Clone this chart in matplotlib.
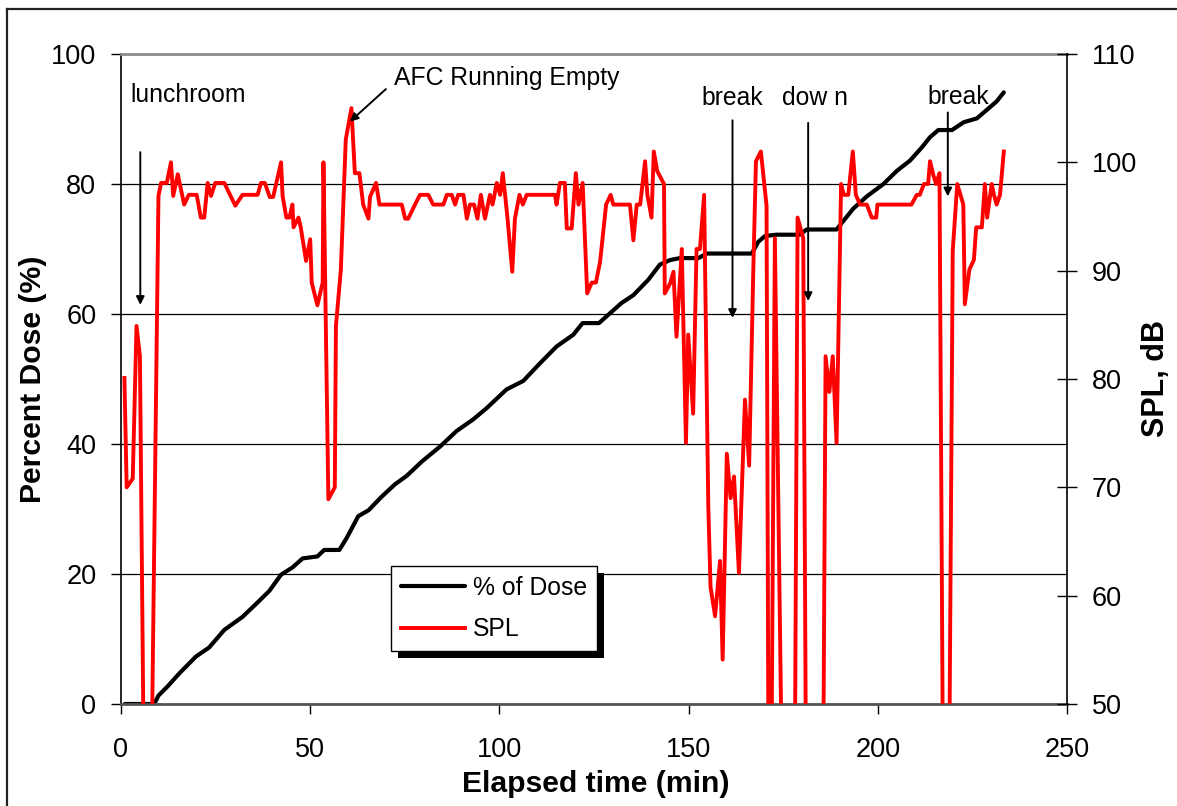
import matplotlib
matplotlib.use("Agg")
import matplotlib.pyplot as plt
from matplotlib.lines import Line2D
from matplotlib.patches import Rectangle
from matplotlib.transforms import IdentityTransform

plt.rcParams['font.family'] = ['Liberation Sans', 'DejaVu Sans']

# % of dose (left axis)
dose_t = [1.0, 8.8, 9.9, 12.3, 15.4, 19.8, 23.3, 27.3, 32.1, 35.7, 39.2, 42.3, 45.3,
          48.0, 51.9, 53.7, 57.7, 59.6, 62.7, 65.4, 68.9, 72.4, 75.5, 79.5, 84.3,
          88.7, 93.1, 96.6, 101.9, 106.3, 110.7, 115.1, 119.5, 122.0, 126.3, 129.2,
          132.3, 135.4, 139.4, 142.4, 145.1, 147.7, 152.6, 154.8, 166.7, 168.4,
          170.2, 173.2, 179.4, 181.2, 189.1, 193.5, 197.1, 201.5, 205.0, 208.5,
          211.6, 213.8, 216.0, 219.6, 222.7, 226.2, 228.8, 231.4, 233.3]
dose_pct = [0, 0, 1.3, 2.7, 4.7, 7.3, 8.7, 11.4, 13.4, 15.4, 17.4, 19.9, 21.0,
            22.4, 22.7, 23.7, 23.7, 25.5, 28.9, 29.8, 31.9, 33.8, 35.1, 37.3, 39.6,
            42.0, 43.8, 45.5, 48.4, 49.7, 52.4, 55.0, 56.8, 58.6, 58.6, 60.1,
            61.7, 62.9, 65.3, 67.6, 68.3, 68.6, 68.6, 69.3, 69.3, 71.1,
            72.0, 72.2, 72.2, 73.0, 73.0, 76.2, 78.1, 80.0, 82.0, 83.6,
            85.6, 87.2, 88.3, 88.3, 89.5, 90.1, 91.4, 92.7, 94.1]

# SPL in dB (right axis); 45 = below the axis floor
spl_t = [0.9, 1.5, 3.1, 4.1, 5.0, 6.0, 8.1, 9.9, 10.6, 12.1, 13.2, 13.8, 15.0, 16.7,
         17.9, 20.0, 21.1, 22.0, 22.9, 23.8, 24.9, 27.3, 30.2, 32.1, 36.1, 37.0,
         38.0, 39.3, 40.2, 42.3, 42.7, 43.7, 44.5, 45.3, 45.6, 46.9, 47.5, 48.9,
         50.0, 50.4, 51.9, 53.3, 53.5, 54.8, 56.5, 56.8, 58.1, 59.4, 60.9, 61.8,
         63.0, 64.0, 65.4, 65.8, 67.4, 68.3, 74.2, 75.1, 75.9, 77.7, 79.0, 81.2,
         82.5, 85.2, 86.1, 87.4, 88.3, 89.1, 90.5, 91.4, 92.2, 93.3, 94.2, 95.1,
         96.2, 97.5, 98.2, 99.3, 100.2, 100.9, 102.1, 103.4, 104.1, 105.3, 106.2,
         107.2, 114.7, 115.1, 116.0, 117.3, 117.8, 119.1, 120.2, 120.9, 122.0,
         123.2, 124.4, 125.5, 126.6, 128.2, 129.4, 130.1, 134.5, 135.4, 136.3,
         137.2, 138.5, 139.1, 140.2, 140.8, 141.7, 143.5, 143.7, 145.1, 146.0,
         146.8, 148.2, 149.3, 149.9, 151.2, 152.1, 153.0, 154.1, 155.2, 155.8,
         157.0, 158.3, 159.0, 160.1, 161.1, 162.0, 163.3, 164.9, 166.0, 167.1,
         167.8, 169.1, 170.6, 171.1, 171.9, 172.8, 174.6, 178.1, 178.8, 180.3,
         181.0, 185.6, 186.2, 187.2, 188.1, 189.1, 190.3, 191.0, 192.2, 193.4,
         194.2, 195.3, 197.1, 198.4, 199.6, 199.9, 208.9, 210.3, 211.1, 212.2,
         213.3, 213.8, 214.7, 215.4, 216.3, 217.2, 218.9, 219.8, 221.0, 222.6,
         223.0, 224.2, 225.4, 226.0, 227.5, 228.3, 228.9, 230.1, 230.7, 231.4,
         232.3, 233.3]
spl_db = [80.1, 70.0, 70.8, 84.9, 82.1, 45, 45, 96.9, 98.1, 98.1, 100.0, 96.9, 98.9, 96.1,
          97.0, 97.0, 94.9, 94.9, 98.1, 96.9, 98.1, 98.1, 96.0, 97.0, 97.0, 98.1,
          98.1, 96.8, 96.8, 100.0, 96.9, 94.9, 94.9, 96.1, 94.0, 94.9, 94.0, 90.9,
          92.9, 88.9, 86.8, 88.9, 100.0, 68.9, 70.0, 84.9, 90.1, 102.1, 105.0, 99.0,
          99.0, 96.1, 94.8, 96.8, 98.1, 96.1, 96.1, 94.8, 94.8, 96.1, 97.0, 97.0,
          96.1, 96.1, 97.0, 97.0, 96.1, 97.0, 97.0, 94.8, 96.1, 96.1, 94.8, 97.0,
          94.8, 97.0, 96.1, 98.1, 97.0, 99.0, 95.0, 89.9, 94.8, 97.0, 96.1,
          97.0, 97.0, 96.1, 98.1, 98.1, 93.9, 93.9, 99.0, 96.1, 98.1,
          87.9, 88.9, 88.9, 90.8, 96.1, 97.0, 96.1, 96.1, 92.8, 96.1,
          96.1, 100.1, 97.0, 94.9, 101.0, 99.2, 98.0, 87.9, 88.8, 89.9,
          83.9, 92.0, 74.1, 84.1, 76.8, 92.0, 92.0, 97.0, 68.3, 60.8,
          58.1, 63.2, 54.1, 73.1, 69.0, 71.0, 62.1, 78.1, 72.0, 90.1,
          100.1, 101.0, 96.0, 45, 45, 93.0, 45, 45, 94.9, 93.0,
          45, 45, 82.1, 78.8, 82.1, 74.1, 98.0, 97.0, 97.0, 101.0,
          97.0, 96.1, 96.1, 94.9, 94.9, 96.1, 96.1, 97.0, 97.0, 98.0,
          98.0, 100.1, 98.8, 98.0, 99.0, 45, 45, 91.8, 98.0, 96.1,
          86.9, 90.1, 91.0, 94.0, 94.0, 98.0, 94.9, 98.0, 97.0, 96.1,
          97.0, 101.0]

fig = plt.figure(figsize=(11.77, 8.06), dpi=100)
ax = fig.add_axes([121/1177, 1 - 704/806, 946/1177, 650/806])
ax2 = ax.twinx()

l1, = ax.plot(dose_t, dose_pct, color='black', lw=3.0, label='% of Dose', solid_capstyle='round')
l2, = ax2.plot(spl_t, spl_db, color='#ff0000', lw=2.8, label='SPL')

ax.set_xlim(0, 250)
ax.set_ylim(0, 100)
ax2.set_ylim(50, 110)
ax.set_xticks(range(0, 251, 50))
ax.set_yticks(range(0, 101, 20))
ax2.set_yticks(range(50, 111, 10))
ax.grid(axis='y', color='black', lw=0.9)

ax.tick_params(axis='y', direction='out', length=7, width=1, pad=10.8, labelsize=19.5)
ax.tick_params(axis='x', direction='out', length=7, width=1, pad=17, labelsize=19.5)
ax2.tick_params(axis='y', direction='inout', length=13.7, width=1, pad=10.9, labelsize=19.5)

ax.spines['top'].set_color('#8c8c8c')
ax.spines['top'].set_linewidth(2)
ax.spines['bottom'].set_color('#555555')
ax.spines['bottom'].set_linewidth(2)
ax.spines['left'].set_linewidth(1.2)
ax.spines['right'].set_visible(False)
for s in ['top', 'bottom', 'left']:
    ax2.spines[s].set_visible(False)
ax2.spines['right'].set_linewidth(1.2)

fig.text(595.8/1177, 1 - 791.7/806, 'Elapsed time (min)', ha='center', va='baseline',
         fontsize=21.7, fontweight='bold')
fig.text(32.7/1177, 1 - 379/806, 'Percent Dose (%)', ha='center', va='center',
         rotation=90, fontsize=21.7, fontweight='bold')
fig.text(1156/1177, 1 - 379/806, 'SPL, dB', ha='center', va='center',
         rotation=90, fontsize=22, fontweight='bold')

# annotations (left-axis coordinates)
tr = ax.transData
afs = 17.8
ax2.text(2.6, 92.6, 'lunchroom', transform=tr, fontsize=afs, va='baseline')
ax2.text(72.2, 95.2, 'AFC Running Empty', transform=tr, fontsize=afs, va='baseline')
ax2.text(153.5, 92.2, 'break', transform=tr, fontsize=afs, va='baseline')
ax2.text(174.7, 92.2, 'dow n', transform=tr, fontsize=afs, va='baseline')
ax2.text(213.1, 92.3, 'break', transform=tr, fontsize=afs, va='baseline')

arrows = [((5.1, 84.9), (5.1, 61.4)),
          ((70.0, 94.6), (60.5, 89.6)),
          ((161.6, 89.8), (161.6, 59.4)),
          ((181.6, 89.4), (181.6, 62.0)),
          ((218.5, 91.0), (218.5, 78.1))]
for start, end in arrows:
    ax2.annotate('', xy=end, xytext=start, xycoords=tr, textcoords=tr,
                 arrowprops=dict(arrowstyle='-|>', color='black', lw=1.4,
                                 mutation_scale=12, shrinkA=0, shrinkB=0))

leg = ax2.legend(handles=[l1, l2], loc='upper left', bbox_to_anchor=(0.2854, 0.2123),
                 borderaxespad=0, fontsize=17.8, frameon=True, fancybox=False,
                 edgecolor='black', framealpha=1, handlelength=2.6, handletextpad=0.3,
                 borderpad=0.4, labelspacing=0.7)
leg.get_frame().set_linewidth(1.0)

# outer border (top and left edges visible)
fig.add_artist(Line2D([7/1177, 7/1177], [-0.05, 1 - 9/806], color='#222222', lw=1.6))
fig.add_artist(Line2D([7/1177, 1.05], [1 - 9/806, 1 - 9/806], color='#222222', lw=1.6))

fig.canvas.draw()
bb = leg.get_frame().get_window_extent()
shadow = Rectangle((bb.x0 + 7, bb.y0 - 7), bb.width, bb.height, transform=IdentityTransform(),
                   facecolor='black', edgecolor='none', zorder=leg.get_zorder() - 0.1,
                   clip_on=False)
ax2.add_artist(shadow)

fig.savefig('out.png', dpi=100)
